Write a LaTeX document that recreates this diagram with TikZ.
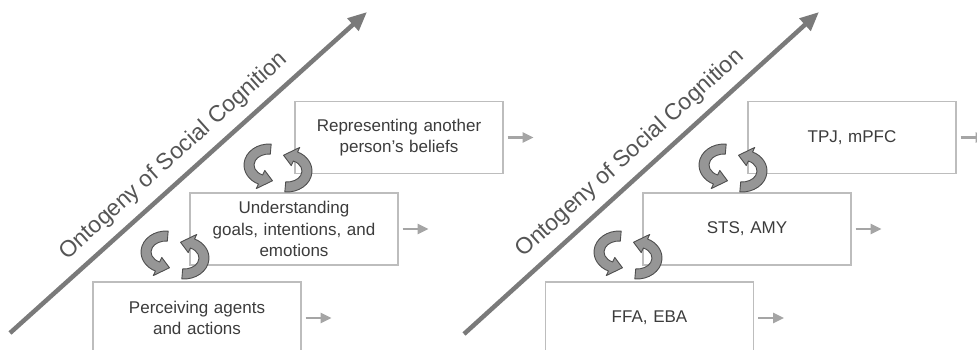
\documentclass[tikz,border=0pt]{standalone}
\usepackage{fontspec}
\setmainfont{Liberation Sans}
\usetikzlibrary{arrows.meta}
\definecolor{boxline}{HTML}{BDBDBD}
\definecolor{txt}{HTML}{3C3C3C}
\definecolor{axis}{HTML}{7A7A7A}
\definecolor{axistxt}{HTML}{555555}
\definecolor{small}{HTML}{A5A5A5}
\definecolor{cycfill}{HTML}{969696}
\definecolor{cycline}{HTML}{4E4E4E}
\tikzset{
  cycarrow/.style={fill=cycfill, draw=cycline, line width=0.9pt, line join=round},
  cycicon/.pic={
    % left arrow: from top, round the left side, head pointing right at the bottom
    \path[cycarrow] ([shift={(-9,-3)}]275:25 and 21)
      arc[start angle=275,end angle=115,x radius=25,y radius=21]
      -- ([shift={(-9,-3)}]115:30 and 26)
      -- ([shift={(-9,-3)}]80:20 and 16)
      -- ([shift={(-9,-3)}]115:10 and 6)
      -- ([shift={(-9,-3)}]115:15 and 11)
      arc[start angle=115,end angle=275,x radius=15,y radius=11] -- cycle;
    % right arrow: from bottom, round the right side, head pointing left at the top
    \path[cycarrow] ([shift={(9,3)}]95:25 and 21)
      arc[start angle=95,end angle=-65,x radius=25,y radius=21]
      -- ([shift={(9,3)}]-65:30 and 26)
      -- ([shift={(9,3)}]-100:20 and 16)
      -- ([shift={(9,3)}]-65:10 and 6)
      -- ([shift={(9,3)}]-65:15 and 11)
      arc[start angle=-65,end angle=95,x radius=15,y radius=11] -- cycle;
  }
}
\begin{document}
\begin{tikzpicture}[x=1pt,y=-1pt,
  stage/.style={draw=boxline, line width=1.3pt, fill=white, minimum width=208pt,
    minimum height=72pt, text width=195pt, align=center,
    font=\fontsize{17}{21.5}\selectfont, text=txt, inner sep=0pt},
  axisarrow/.style={draw=axis, line width=4.5pt, -{Triangle[length=19pt,width=16pt]}},
  axislabel/.style={sloped, anchor=south, inner ysep=9pt, inner xsep=0pt,
    font=\fontsize{23}{26}\selectfont, text=axistxt},
  outarrow/.style={draw=small, line width=2.6pt, -{Triangle[length=11pt,width=10pt]}},
]
\useasboundingbox (0,0) rectangle (977,349);
\clip (0,0) rectangle (977,349);

% ---------- left panel ----------
\coordinate (L0) at (10,333);
\coordinate (L1) at (367,12);
\draw[axisarrow] (L0) -- node[axislabel, pos=0.5] {Ontogeny of Social Cognition} (L1);

\node[stage] (rep) at (399,137.5) {Representing another\\person's beliefs};
\node[stage] (und) at (294,229) {Understanding\\goals, intentions, and\\emotions};
\node[stage] (per) at (197,318) {Perceiving agents\\and actions};

\coordinate (repout) at ([xshift=30pt]rep.east);
\coordinate (undout) at ([xshift=30pt]und.east);
\coordinate (perout) at ([xshift=30pt]per.east);
\draw[outarrow] ([xshift=4pt]rep.east) -- (repout);
\draw[outarrow] ([xshift=4pt]und.east) -- (undout);
\draw[outarrow] ([xshift=4pt]per.east) -- (perout);

\pic (cycA) at (278,168) {cycicon};
\pic (cycB) at (175,255) {cycicon};

% ---------- right panel ----------
\coordinate (R0) at (464,334);
\coordinate (R1) at (819,12);
\draw[axisarrow] (R0) -- node[axislabel, pos=0.51] {Ontogeny of Social Cognition} (R1);

\node[stage] (tpj) at (852,137.5) {TPJ, mPFC};
\node[stage] (sts) at (747,229) {STS, AMY};
\node[stage] (ffa) at (649.5,318) {FFA, EBA};

\coordinate (tpjout) at ([xshift=30pt]tpj.east);
\coordinate (stsout) at ([xshift=30pt]sts.east);
\coordinate (ffaout) at ([xshift=30pt]ffa.east);
\draw[outarrow] ([xshift=4pt]tpj.east) -- (tpjout);
\draw[outarrow] ([xshift=4pt]sts.east) -- (stsout);
\draw[outarrow] ([xshift=4pt]ffa.east) -- (ffaout);

\pic (cycC) at (733,168) {cycicon};
\pic (cycD) at (628,255) {cycicon};
\end{tikzpicture}
\end{document}
